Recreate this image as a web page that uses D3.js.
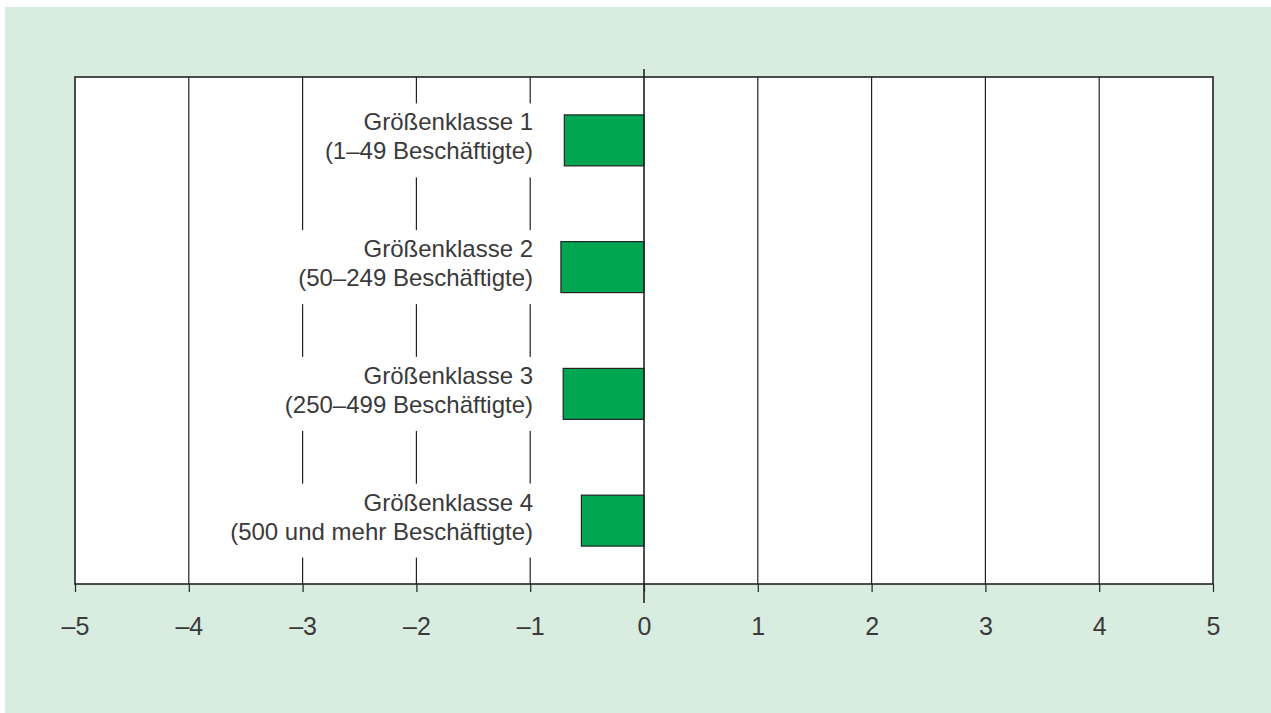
<!DOCTYPE html>
<html>
<head>
<meta charset="utf-8">
<script src="https://cdn.jsdelivr.net/npm/d3@7"></script>
<style>
  html, body { margin: 0; padding: 0; background: #fff; }
  svg { display: block; }
  text { font-family: "Liberation Sans", Arial, sans-serif; fill: #3a3a3a; }
</style>
</head>
<body>
<svg id="chart-svg" width="1271" height="713"></svg>
<script>
// data
const categories = ["Größenklasse 1", "Größenklasse 2", "Größenklasse 3", "Größenklasse 4"];
const subLabels = ["(1–49 Beschäftigte)", "(50–249 Beschäftigte)", "(250–499 Beschäftigte)", "(500 und mehr Beschäftigte)"];
const values = [-0.70, -0.73, -0.71, -0.55];
const xTicks = [-5, -4, -3, -2, -1, 0, 1, 2, 3, 4, 5];

const svg = d3.select("#chart-svg");
const margin = { top: 77, right: 58, bottom: 129, left: 75 };
const W = 1271, H = 713;

// green panel
svg.append("rect")
    .attr("x", 5).attr("y", 7)
    .attr("width", W - 5).attr("height", H - 7)
    .attr("fill", "#d8ece0");

const x = d3.scaleLinear()
    .domain([-5, 5])
    .range([margin.left, W - margin.right]);

const y = d3.scaleBand()
    .domain(categories)
    .range([margin.top, H - margin.bottom])
    .paddingInner(0.598)
    .paddingOuter(0.299);

const plotTop = margin.top, plotBottom = H - margin.bottom;

// white plot area
svg.append("rect")
    .attr("x", x(-5)).attr("y", plotTop)
    .attr("width", x(5) - x(-5)).attr("height", plotBottom - plotTop)
    .attr("fill", "#fff");

// vertical grid lines
svg.append("g")
    .selectAll("line")
    .data(xTicks.filter(d => d !== 0 && Math.abs(d) !== 5))
    .enter()
    .append("line")
    .attr("x1", d => x(d)).attr("x2", d => x(d))
    .attr("y1", plotTop).attr("y2", plotBottom)
    .attr("stroke", "#222")
    .attr("stroke-width", 1.2);

// category labels (with white masks that break the grid lines)
const labelRight = x(0) - 111;
const masks = svg.append("g");
const labels = svg.append("g")
    .selectAll("text")
    .data(categories)
    .enter()
    .append("text")
    .attr("text-anchor", "end")
    .style("font-size", "24px")
    .attr("x", labelRight)
    .attr("y", d => y(d) + y.bandwidth() / 2 - 10);

labels.append("tspan")
    .attr("x", labelRight)
    .text(d => d);
labels.append("tspan")
    .attr("x", labelRight)
    .attr("dy", 29)
    .text((d, i) => subLabels[i]);

labels.each(function (d) {
    const b = this.getBBox();
    const cy = y(d) + y.bandwidth() / 2;
    masks.append("rect")
        .attr("x", b.x - 5)
        .attr("y", cy - 37)
        .attr("width", b.width + 10)
        .attr("height", 74)
        .attr("fill", "#fff");
});

// bars
svg.append("g")
    .selectAll("rect")
    .data(values)
    .enter()
    .append("rect")
    .attr("x", d => x(Math.min(0, d)))
    .attr("y", (d, i) => y(categories[i]))
    .attr("width", d => Math.abs(x(d) - x(0)))
    .attr("height", y.bandwidth())
    .attr("fill", "#00a651")
    .attr("stroke", "#222")
    .attr("stroke-width", 1.2);

// plot frame
svg.append("rect")
    .attr("x", x(-5)).attr("y", plotTop)
    .attr("width", x(5) - x(-5)).attr("height", plotBottom - plotTop)
    .attr("fill", "none")
    .attr("stroke", "#222")
    .attr("stroke-width", 1.6);

// x axis
const xAxis = svg.append("g")
    .attr("transform", `translate(0, ${plotBottom})`)
    .call(d3.axisBottom(x)
        .tickValues(xTicks)
        .tickSize(8)
        .tickPadding(25)
        .tickFormat(d => d < 0 ? "–" + Math.abs(d) : String(d)));

xAxis.select(".domain").remove();
xAxis.selectAll(".tick line")
    .attr("stroke", "#222")
    .attr("stroke-width", 1.2);
xAxis.selectAll(".tick text")
    .style("font-size", "25px")
    .style("font-family", "Liberation Sans, Arial, sans-serif")
    .attr("fill", "#3a3a3a");

// zero line, longer than the rest
svg.append("line")
    .attr("x1", x(0)).attr("x2", x(0))
    .attr("y1", plotTop - 8).attr("y2", plotBottom + 19)
    .attr("stroke", "#222")
    .attr("stroke-width", 1.6);
</script>
</body>
</html>
